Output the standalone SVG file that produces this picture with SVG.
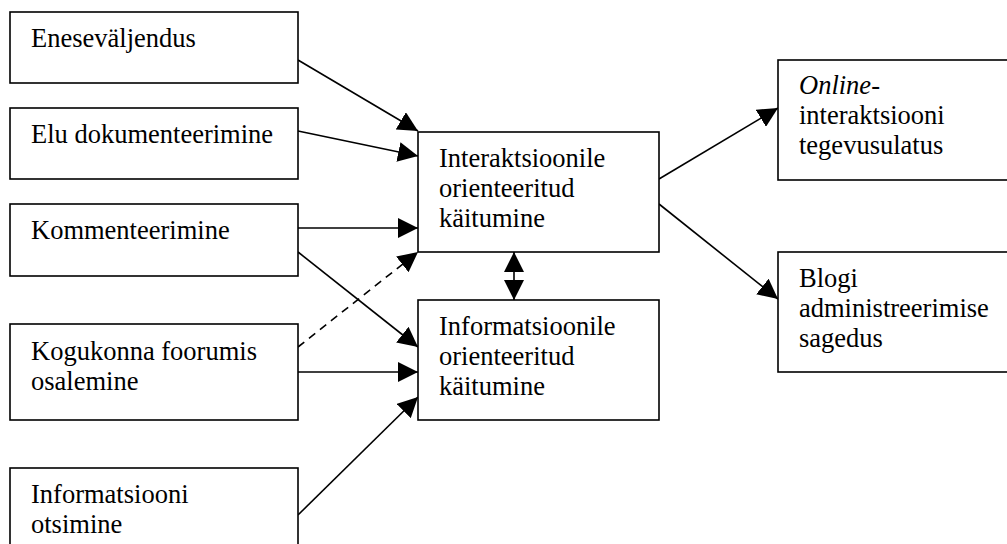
<svg xmlns="http://www.w3.org/2000/svg" width="1007" height="544" viewBox="0 0 1007 544">
<style>
.box{fill:#fff;stroke:#000;stroke-width:1.6}
text{font-family:'Liberation Serif','Times New Roman','DejaVu Serif',serif;font-size:26.5px;fill:#000}
.c{stroke:#000;stroke-width:1.6;fill:none;marker-end:url(#ah)}
.d{stroke-dasharray:8,6}
</style>
<defs>
<marker id="ah" viewBox="0 0 20 20" refX="20" refY="10" markerUnits="userSpaceOnUse" markerWidth="20" markerHeight="20" orient="auto">
<path d="M0,0 L20,10 L0,20 Z" fill="#000"/>
</marker>
</defs>
<rect width="1007" height="544" fill="#fff"/>
<g id="connectors">
<line class="c" x1="298" y1="60" x2="418" y2="131"/>
<line class="c" x1="298" y1="131" x2="418" y2="156"/>
<line class="c" x1="298" y1="228" x2="418" y2="228"/>
<line class="c d" x1="298" y1="347" x2="418" y2="252"/>
<line class="c" x1="298" y1="252" x2="418" y2="347"/>
<line class="c" x1="298" y1="372" x2="418" y2="372"/>
<line class="c" x1="298" y1="515" x2="418" y2="397"/>
<line class="c" x1="514" y1="276" x2="514" y2="252"/>
<line class="c" x1="514" y1="276" x2="514" y2="300"/>
<line class="c" x1="659" y1="179" x2="778" y2="108"/>
<line class="c" x1="659" y1="204" x2="778" y2="299"/>
</g>
<g id="n1"><rect class="box" x="10" y="12" width="288" height="71"/><text x="31" y="47">Eneseväljendus</text></g>
<g id="n2"><rect class="box" x="10" y="108" width="288" height="71"/><text x="31" y="143">Elu dokumenteerimine</text></g>
<g id="n3"><rect class="box" x="10" y="204" width="288" height="72"/><text x="31" y="239">Kommenteerimine</text></g>
<g id="n4"><rect class="box" x="10" y="324" width="288" height="96"/><text x="31" y="360">Kogukonna foorumis</text><text x="31" y="390">osalemine</text></g>
<g id="n5"><rect class="box" x="10" y="468" width="288" height="90"/><text x="31" y="503">Informatsiooni</text><text x="31" y="533">otsimine</text></g>
<g id="n6"><rect class="box" x="418" y="132" width="241" height="120"/><text x="439" y="167">Interaktsioonile</text><text x="439" y="197">orienteeritud</text><text x="439" y="227">käitumine</text></g>
<g id="n7"><rect class="box" x="418" y="300" width="241" height="120"/><text x="439" y="335">Informatsioonile</text><text x="439" y="365">orienteeritud</text><text x="439" y="395">käitumine</text></g>
<g id="n8"><rect class="box" x="778" y="60" width="240" height="120"/><text x="799" y="94"><tspan font-style="italic">Online</tspan>-</text><text x="799" y="124">interaktsiooni</text><text x="799" y="154">tegevusulatus</text></g>
<g id="n9"><rect class="box" x="778" y="252" width="240" height="120"/><text x="799" y="287">Blogi</text><text x="799" y="317">administreerimise</text><text x="799" y="347">sagedus</text></g>
</svg>
